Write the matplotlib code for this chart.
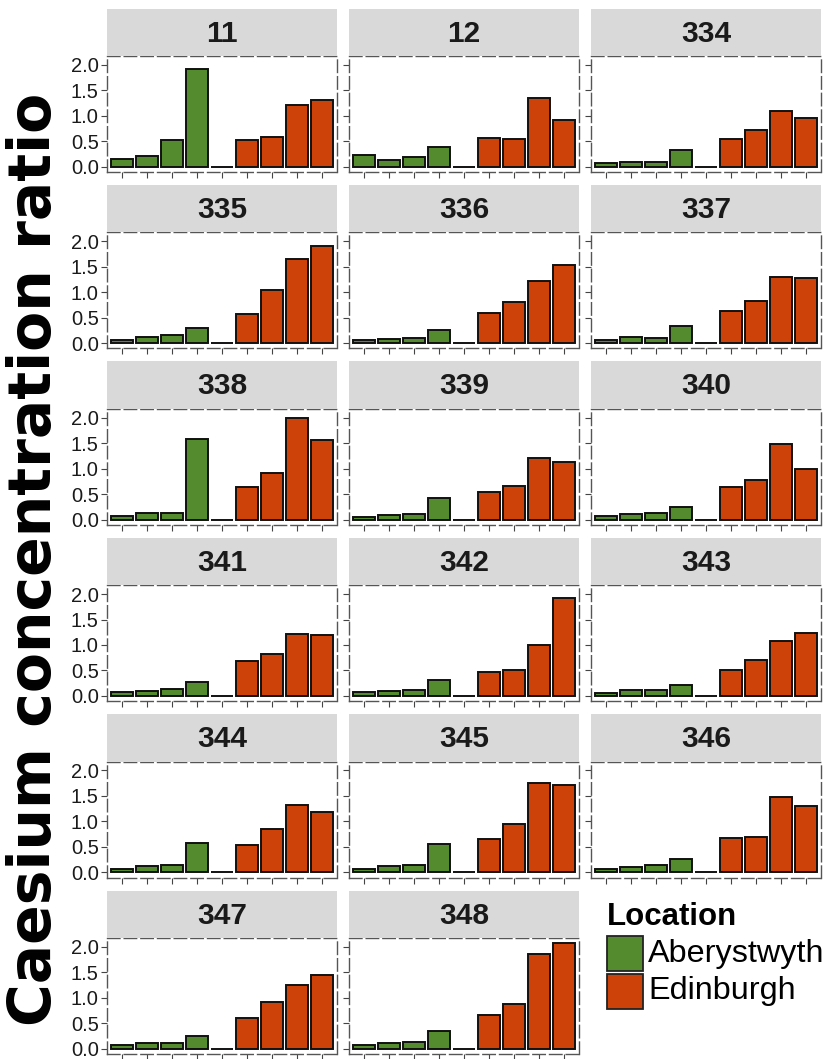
import matplotlib
matplotlib.use("Agg")
import matplotlib.pyplot as plt
from matplotlib.patches import Rectangle

plt.rcParams['font.family'] = ['Liberation Sans', 'DejaVu Sans']

# panel ids and the bar heights (4 Aberystwyth, one empty slot, 4 Edinburgh)
panels = ["11", "12", "334", "335", "336", "337", "338", "339", "340",
          "341", "342", "343", "344", "345", "346", "347", "348"]
aber = [
    [0.16, 0.21, 0.52, 1.91],
    [0.23, 0.14, 0.19, 0.38],
    [0.065, 0.10, 0.09, 0.32],
    [0.065, 0.13, 0.16, 0.30],
    [0.06, 0.085, 0.11, 0.26],
    [0.07, 0.12, 0.11, 0.33],
    [0.07, 0.13, 0.13, 1.59],
    [0.05, 0.08, 0.10, 0.42],
    [0.065, 0.10, 0.12, 0.25],
    [0.085, 0.10, 0.13, 0.28],
    [0.07, 0.10, 0.12, 0.32],
    [0.06, 0.11, 0.11, 0.21],
    [0.07, 0.12, 0.14, 0.57],
    [0.065, 0.12, 0.14, 0.55],
    [0.065, 0.10, 0.14, 0.27],
    [0.065, 0.12, 0.12, 0.25],
    [0.08, 0.11, 0.14, 0.35],
]
edin = [
    [0.53, 0.59, 1.22, 1.31],
    [0.56, 0.54, 1.34, 0.91],
    [0.55, 0.72, 1.10, 0.96],
    [0.57, 1.05, 1.66, 1.90],
    [0.60, 0.80, 1.21, 1.54],
    [0.63, 0.83, 1.30, 1.28],
    [0.63, 0.92, 1.99, 1.57],
    [0.55, 0.66, 1.21, 1.13],
    [0.63, 0.78, 1.49, 0.99],
    [0.68, 0.82, 1.22, 1.20],
    [0.46, 0.51, 0.99, 1.93],
    [0.51, 0.71, 1.08, 1.24],
    [0.54, 0.85, 1.32, 1.18],
    [0.66, 0.94, 1.76, 1.72],
    [0.67, 0.70, 1.48, 1.30],
    [0.60, 0.91, 1.26, 1.44],
    [0.67, 0.88, 1.86, 2.07],
]
locations = ["Aberystwyth", "Edinburgh"]
colours = {"Aberystwyth": "#558B2F", "Edinburgh": "#CC4208"}
yticks = [0.0, 0.5, 1.0, 1.5, 2.0]
ytick_labels = ["0.0", "0.5", "1.0", "1.5", "2.0"]

W, H = 829, 1059
fig = plt.figure(figsize=(W / 100, H / 100), dpi=100)

col_left = [107, 349, 591]
panel_w = 230
strip_h = 47.5
panel_h = 116
row_top0 = 8.5
row_pitch = 176.4

ymax = max(max(v) for v in edin + aber)
pad = ymax * 0.05

for i, name in enumerate(panels):
    r, c = divmod(i, 3)
    top = row_top0 + r * row_pitch
    x0 = col_left[c] / W
    pb = (H - (top + strip_h + panel_h)) / H
    ax = fig.add_axes([x0, pb, panel_w / W, panel_h / H])
    sx = fig.add_axes([x0, pb + panel_h / H, panel_w / W, strip_h / H])

    heights = aber[i] + [0.0] + edin[i]
    cols = [colours["Aberystwyth"]] * 4 + ["white"] + [colours["Edinburgh"]] * 4
    xs = list(range(1, 10))
    ax.bar(xs, heights, width=0.9, color=cols, edgecolor="#111111", linewidth=1.4)

    ax.set_xlim(0.4, 9.6)
    ax.set_ylim(-pad, ymax + pad)
    ax.set_xticks(xs)
    ax.set_xticklabels([])
    ax.set_yticks(yticks)
    if c == 0:
        ax.set_yticklabels(ytick_labels, fontsize=14.5, color="#1a1a1a")
    else:
        ax.set_yticklabels([])
    ax.tick_params(axis="both", length=4, width=0.8, color="#444444", pad=2)
    for sp in ax.spines.values():
        sp.set_color("#555555")
        sp.set_linewidth(1.0)
        sp.set_linestyle((0, (9, 3)))

    sx.set_facecolor("#D9D9D9")
    sx.set_xticks([])
    sx.set_yticks([])
    for sp in sx.spines.values():
        sp.set_visible(False)
    sx.text(0.5, 0.47, name, transform=sx.transAxes, ha="center", va="center",
            fontsize=21.5, fontweight="bold", color="#1a1a1a")

fig.text(35 / W, 1 - 559 / H, "Caesium concentration ratio", rotation=90,
         ha="center", va="center", fontsize=42, fontweight="bold",
         family="DejaVu Sans")

# legend in the empty facet slot
lg = fig.add_axes([0, 0, 1, 1], facecolor="none")
lg.set_xlim(0, W)
lg.set_ylim(H, 0)
lg.axis("off")
lg.text(607, 925, "Location", fontsize=22.5, fontweight="bold", va="baseline", ha="left")
for k, loc in enumerate(locations):
    ky = 936 + k * 37.5
    lg.add_patch(Rectangle((607, ky), 36, 35, facecolor=colours[loc],
                           edgecolor="#222222", linewidth=1.3))
    lg.text(648, ky + 18, loc, fontsize=23.3, va="center", ha="left")

fig.savefig("out.png", dpi=100)
